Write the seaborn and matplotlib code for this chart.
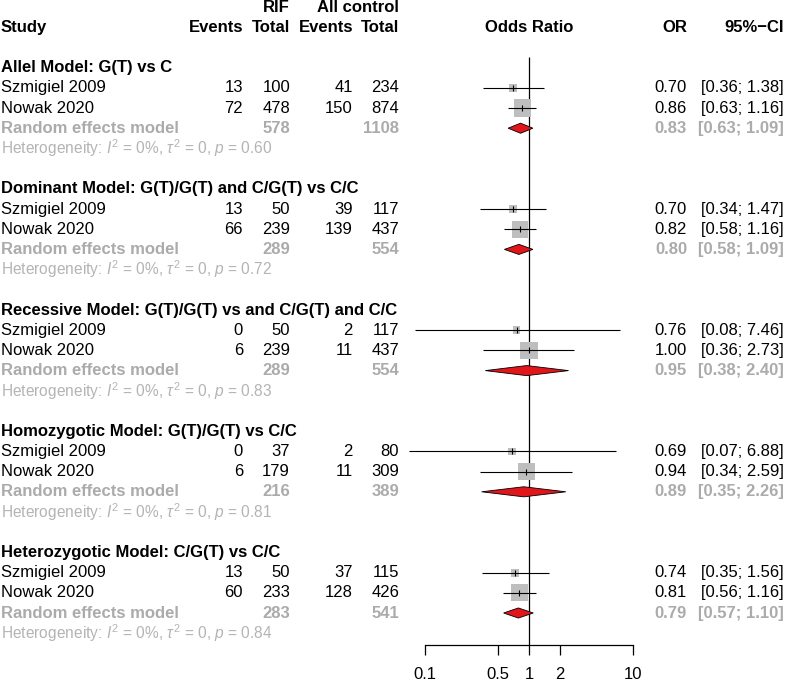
import matplotlib
matplotlib.use("Agg")
import matplotlib.pyplot as plt
import numpy as np
import pandas as pd
import seaborn as sns
from matplotlib import rcParams
from matplotlib.patches import Polygon

rcParams["font.family"] = ["Liberation Sans", "DejaVu Sans"]
rcParams["font.size"] = 12
rcParams["mathtext.fontset"] = "custom"
rcParams["mathtext.rm"] = "Liberation Sans"
rcParams["mathtext.it"] = "Liberation Sans:italic"
rcParams["mathtext.bf"] = "Liberation Sans:bold"

# data
groups = [
    "Allel Model: G(T) vs C",
    "Dominant Model: G(T)/G(T) and C/G(T) vs C/C",
    "Recessive Model: G(T)/G(T) vs and C/G(T) and C/C",
    "Homozygotic Model: G(T)/G(T) vs C/C",
    "Heterozygotic Model: C/G(T) vs C/C",
]
studies = ["Szmigiel 2009", "Nowak 2020"]
rif_events = [13, 72, 13, 66, 0, 6, 0, 6, 13, 60]
rif_total = [100, 478, 50, 239, 50, 239, 37, 179, 50, 233]
ctl_events = [41, 150, 39, 139, 2, 11, 2, 11, 37, 128]
ctl_total = [234, 874, 117, 437, 117, 437, 80, 309, 115, 426]
odds = [0.70, 0.86, 0.70, 0.82, 0.76, 1.00, 0.69, 0.94, 0.74, 0.81]
ci_lo = [0.36, 0.63, 0.34, 0.58, 0.08, 0.36, 0.07, 0.34, 0.35, 0.56]
ci_hi = [1.38, 1.16, 1.47, 1.16, 7.46, 2.73, 6.88, 2.59, 1.56, 1.16]
weights = [17.1, 82.9, 18.3, 81.7, 16.6, 83.4, 16.4, 83.6, 19.2, 80.8]

pooled_or = [0.83, 0.80, 0.95, 0.89, 0.79]
pooled_lo = [0.63, 0.58, 0.38, 0.35, 0.57]
pooled_hi = [1.09, 1.09, 2.40, 2.26, 1.10]
pooled_rif_total = [578, 289, 289, 216, 283]
pooled_ctl_total = [1108, 554, 554, 389, 541]
het_p = ["0.60", "0.72", "0.83", "0.81", "0.84"]

x_ticks = [0.1, 0.5, 1, 2, 10]
x_tick_labels = ["0.1", "0.5", "1", "2", "10"]

GRAY_TXT = "#ABABAB"
GRAY_HET = "#B4B4B4"
GRAY_BOX = "#BEBEBE"
RED = "#E0161B"

# layout in pixels: row k sits at y = 7 + 20.2 * k
W, H = 785, 682
ROW0, ROWH = 7, 20.2
AXIS_Y = 645


def row_of(px):
    return (px - ROW0) / ROWH


fig = plt.figure(figsize=(W / 100, H / 100), dpi=100)

# text layer over the whole figure, x in pixels, y in rows
ax_t = fig.add_axes([0, 0, 1, 1])
ax_t.set_xlim(0, W)
ax_t.set_ylim(row_of(H), row_of(0))
ax_t.axis("off")

# forest layer, log scale between 0.1 (x=425) and 10 (x=633)
x0, x1 = 425, 633
ax = fig.add_axes([x0 / W, (H - AXIS_Y) / H, (x1 - x0) / W, AXIS_Y / H])
ax.set_xscale("log")
ax.set_xlim(0.1, 10)
ax.set_ylim(row_of(AXIS_Y), row_of(0))
ax.patch.set_alpha(0)

# build study table
rows = []
for g in range(len(groups)):
    base = 3 + 6 * g
    for s in range(2):
        i = 2 * g + s
        rows.append(
            dict(
                group=groups[g],
                study=studies[s],
                row=base + 1 + s,
                ev1=rif_events[i],
                n1=rif_total[i],
                ev2=ctl_events[i],
                n2=ctl_total[i],
                OR=odds[i],
                lo=ci_lo[i],
                hi=ci_hi[i],
                w=weights[i],
            )
        )
df = pd.DataFrame(rows)

# squares: area proportional to weight
sns.scatterplot(
    data=df,
    x="OR",
    y="row",
    size="w",
    sizes=(0, 181),
    size_norm=(0, 100),
    marker="s",
    color=GRAY_BOX,
    linewidth=0,
    legend=False,
    ax=ax,
    zorder=2,
)
ax.hlines(df["row"], df["lo"], df["hi"], color="black", lw=0.8, zorder=3, clip_on=False)
ax.vlines(df["OR"], df["row"] - 0.15, df["row"] + 0.15, color="black", lw=0.8, zorder=3)

# pooled diamonds
for g in range(len(groups)):
    r = 3 + 6 * g + 3
    dia = Polygon(
        [
            (pooled_lo[g], r),
            (pooled_or[g], r - 0.25),
            (pooled_hi[g], r),
            (pooled_or[g], r + 0.25),
        ],
        closed=True,
        facecolor=RED,
        edgecolor="black",
        lw=0.6,
        zorder=4,
    )
    ax.add_patch(dia)

# reference line at OR = 1
ax.vlines(1, row_of(57), row_of(AXIS_Y), color="black", lw=0.9, zorder=1)

for side in ["left", "right", "top"]:
    ax.spines[side].set_visible(False)
ax.spines["bottom"].set_linewidth(0.9)
ax.set_yticks([])
ax.minorticks_off()
ax.set_xticks(x_ticks)
ax.set_xticklabels(x_tick_labels)
ax.tick_params(axis="x", direction="out", length=7.2, width=0.9, pad=8.5, labelsize=12)
ax.set_xlabel("")
ax.set_ylabel("")

# column positions (right edges in pixels)
C_EV1, C_N1, C_EV2, C_N2 = 243, 290, 353, 399
C_OR, C_CI = 687, 784

bold = dict(fontweight="bold", va="center")
ax_t.text(C_N1, 0, "RIF", ha="right", **bold)
ax_t.text(C_N2, 0, "All control", ha="right", **bold)
ax_t.text(1, 1, "Study", ha="left", **bold)
ax_t.text(C_EV1, 1, "Events", ha="right", **bold)
ax_t.text(C_N1, 1, "Total", ha="right", **bold)
ax_t.text(C_EV2, 1, "Events", ha="right", **bold)
ax_t.text(C_N2, 1, "Total", ha="right", **bold)
ax_t.text(529, 1, "Odds Ratio", ha="center", **bold)
ax_t.text(C_OR, 1, "OR", ha="right", **bold)
ax_t.text(C_CI, 1, "95%\u2212CI", ha="right", **bold)

for g, name in enumerate(groups):
    base = 3 + 6 * g
    ax_t.text(1, base, name, ha="left", **bold)

for _, d in df.iterrows():
    r = d["row"]
    ax_t.text(1, r, d["study"], ha="left", va="center")
    ax_t.text(C_EV1, r, f"{d['ev1']:.0f}", ha="right", va="center")
    ax_t.text(C_N1, r, f"{d['n1']:.0f}", ha="right", va="center")
    ax_t.text(C_EV2, r, f"{d['ev2']:.0f}", ha="right", va="center")
    ax_t.text(C_N2, r, f"{d['n2']:.0f}", ha="right", va="center")
    ax_t.text(C_OR, r, f"{d['OR']:.2f}", ha="right", va="center")
    ax_t.text(C_CI, r, f"[{d['lo']:.2f}; {d['hi']:.2f}]", ha="right", va="center")

for g in range(len(groups)):
    r = 3 + 6 * g + 3
    gb = dict(color=GRAY_TXT, fontweight="bold", va="center")
    ax_t.text(1, r, "Random effects model", ha="left", **gb)
    ax_t.text(C_N1, r, str(pooled_rif_total[g]), ha="right", **gb)
    ax_t.text(C_N2, r, str(pooled_ctl_total[g]), ha="right", **gb)
    ax_t.text(C_OR, r, f"{pooled_or[g]:.2f}", ha="right", **gb)
    ax_t.text(C_CI, r, f"[{pooled_lo[g]:.2f}; {pooled_hi[g]:.2f}]", ha="right", **gb)
    ax_t.text(
        1,
        r + 1,
        r"Heterogeneity: $I^2$ = 0%, $\tau^2$ = 0, $p$ = " + het_p[g],
        ha="left",
        va="center",
        color=GRAY_HET,
        fontsize=11.2,
    )

fig.savefig("out.png", dpi=100)
